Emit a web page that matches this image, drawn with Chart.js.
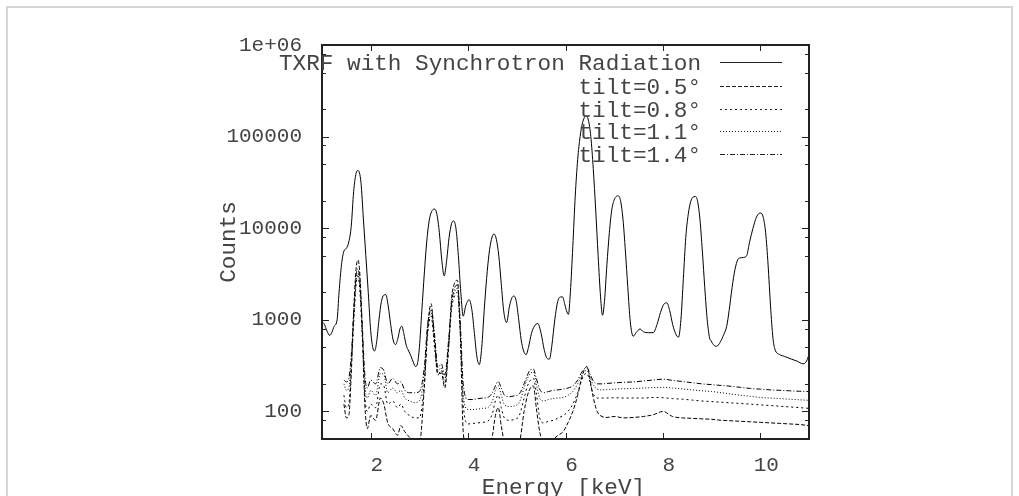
<!DOCTYPE html>
<html><head><meta charset="utf-8">
<script src="https://cdn.jsdelivr.net/npm/chart.js@4/dist/chart.umd.min.js"></script>
<style>
html,body{margin:0;padding:0;background:#fff;width:1019px;height:496px;overflow:hidden;}
#frame{position:absolute;left:6px;top:6px;width:1007px;height:520px;border:2px solid #d6d6d6;box-sizing:border-box;}
#wrap{position:absolute;left:0;top:0;width:1019px;height:496px;}
</style></head>
<body><div id="frame"></div><div id="wrap"><canvas id="c" width="1019" height="496"></canvas></div>
<script>
// ---------- data ----------
const seriesLabels = ["TXRF with Synchrotron Radiation","tilt=0.5°","tilt=0.8°","tilt=1.1°","tilt=1.4°"];
const xTickValues = [2,4,6,8,10];
const xTickLabels = ["2","4","6","8","10"];
const yTickValues = [100,1000,10000,100000,1000000];
const yTickLabels = ["100","1000","10000","100000","1e+06"];
const yMinorTicks = [80,200,500,800,2000,5000,8000,20000,50000,80000,200000,500000,800000];
const xTitle = "Energy [keV]";
const yTitle = "Counts";

const mainE = [1.00,1.05,1.10,1.16,1.20,1.25,1.31,1.35,1.40,1.45,1.50,1.55,1.60,1.65,1.70,1.74,1.80,1.85,1.90,1.95,2.00,2.05,2.08,2.12,2.17,2.22,2.27,2.31,2.36,2.41,2.46,2.51,2.56,2.60,2.64,2.68,2.73,2.78,2.83,2.88,2.92,2.96,3.00,3.05,3.10,3.15,3.20,3.25,3.31,3.36,3.41,3.46,3.51,3.56,3.61,3.66,3.70,3.75,3.80,3.85,3.90,3.95,4.02,4.08,4.13,4.18,4.23,4.28,4.33,4.38,4.43,4.48,4.53,4.58,4.63,4.68,4.73,4.79,4.85,4.90,4.94,4.99,5.04,5.09,5.14,5.19,5.24,5.30,5.36,5.43,5.50,5.56,5.62,5.67,5.72,5.78,5.84,5.90,5.94,5.98,6.02,6.06,6.10,6.15,6.20,6.25,6.30,6.35,6.42,6.47,6.52,6.57,6.62,6.67,6.72,6.76,6.80,6.85,6.90,6.95,7.00,7.05,7.08,7.13,7.18,7.23,7.28,7.33,7.39,7.45,7.53,7.60,7.70,7.80,7.88,7.95,8.02,8.08,8.14,8.20,8.26,8.32,8.37,8.42,8.47,8.52,8.57,8.62,8.66,8.71,8.76,8.81,8.86,8.91,8.96,8.99,9.05,9.10,9.18,9.25,9.31,9.36,9.42,9.48,9.54,9.58,9.65,9.72,9.78,9.85,9.92,9.97,10.01,10.06,10.11,10.16,10.21,10.26,10.30,10.40,10.50,10.64,10.75,10.88,10.95,11.00];
const mainCounts = [955,891,759,676,724,851,1000,1995,3981,5623,6026,7079,10470,25119,39811,42658,31623,12589,5012,1995,759,479,457,562,1000,1585,1862,1884,1413,891,603,537,631,794,851,708,525,457,398,339,309,331,501,1259,3162,7079,12023,15136,16218,14125,8913,4467,3020,4467,7943,11220,12023,10000,5012,1995,1096,1413,1660,1259,708,398,324,501,1259,2818,5248,7586,8650,7586,5012,2512,1259,933,1413,1738,1820,1585,1000,603,457,417,501,708,851,912,708,479,380,372,525,1000,1585,1778,1778,1514,1259,1148,1995,6310,22387,56234,100000,141254,168267,151356,100000,44668,15849,5012,1778,1122,1585,3981,8913,15849,20417,22387,22594,19953,12589,5623,2239,955,661,724,794,741,724,724,891,1202,1479,1531,1259,891,708,646,1000,2818,7943,14125,19498,21878,22233,19953,12589,5623,2239,1000,631,589,525,513,575,692,851,1259,2239,3548,4571,4732,4786,5012,7079,10000,13183,14454,14655,13183,8913,3981,1413,631,479,417,398,372,355,331,355,417];

const tiltE = [1.45,1.50,1.55,1.60,1.65,1.70,1.74,1.78,1.83,1.88,1.93,2.00,2.10,2.20,2.27,2.35,2.45,2.55,2.62,2.70,2.80,2.90,3.00,3.10,3.17,3.24,3.31,3.38,3.45,3.52,3.60,3.66,3.72,3.78,3.84,3.90,4.00,4.10,4.20,4.30,4.40,4.50,4.56,4.62,4.68,4.75,4.85,4.95,5.05,5.15,5.22,5.28,5.34,5.40,5.47,5.55,5.65,5.75,5.85,5.95,6.05,6.15,6.25,6.32,6.38,6.44,6.50,6.56,6.65,6.75,6.85,7.00,7.20,7.40,7.60,7.80,8.00,8.20,8.40,8.60,8.80,9.00,9.20,9.40,9.60,9.80,10.00,10.20,10.40,10.60,10.80,11.00];
const tilt05 = [120,85,90,250,1200,3600,4500,3000,700,120,65,90,80,140,120,75,65,55,70,60,52,45,45,180,800,1500,600,250,280,180,500,1700,2500,2700,700,60,35,36,37,38,40,55,90,110,70,45,40,40,45,100,150,180,190,110,60,45,48,50,55,60,75,100,150,220,280,310,230,150,100,88,86,88,85,86,88,92,100,88,85,84,83,82,80,79,78,77,76,75,74,73,72,70];
const tilt08 = [150,110,120,300,900,2400,3000,2000,600,150,100,120,110,200,190,120,130,110,120,100,90,85,85,200,700,1100,500,260,260,200,500,1300,1800,2000,700,120,73,74,75,76,78,95,130,150,110,84,80,82,90,140,190,220,230,160,85,75,78,80,85,90,100,120,160,210,250,260,210,160,140,140,140,141,140,140,140,142,141,138,136,133,130,128,126,124,122,120,118,116,114,112,110,108];
const tilt11 = [200,170,180,350,1000,2600,3200,2200,700,200,140,170,150,260,250,160,180,160,170,140,130,125,130,260,800,1200,600,280,300,220,550,1400,2000,2200,800,150,105,105,106,108,110,130,170,190,150,118,113,115,125,180,230,260,270,200,140,130,135,138,140,142,150,165,200,240,270,280,240,200,175,172,173,175,177,178,180,182,183,180,176,172,168,165,160,155,150,146,142,140,138,136,134,132];
const tilt14 = [220,210,230,400,1200,3000,3600,2500,800,250,180,220,200,300,280,200,230,200,210,170,160,160,165,300,900,1300,700,300,330,250,600,1500,2200,2400,900,200,135,135,138,140,142,160,190,212,180,150,145,148,155,200,250,285,290,230,175,160,165,170,172,175,180,190,220,260,290,300,260,220,200,200,202,205,208,210,215,220,225,218,212,206,200,196,192,188,183,178,175,172,170,168,166,165];

// ---------- chart ----------
const FONT = "'Liberation Mono','DejaVu Sans Mono',monospace";
const TXT = '#444';
const pts = (xs, ys) => xs.map((x, i) => ({x: x, y: ys[i]}));
const dashes = [[], [4,2], [2,3], [1,2], [5,2,1,2]];
const seriesX = [mainE, tiltE, tiltE, tiltE, tiltE];
const seriesY = [mainCounts, tilt05, tilt08, tilt11, tilt14];

const datasets = seriesLabels.map((lab, i) => ({
  label: lab,
  data: pts(seriesX[i], seriesY[i]),
  borderColor: '#000',
  borderWidth: 1,
  borderDash: dashes[i],
  pointRadius: 0,
  fill: false,
  cubicInterpolationMode: 'monotone'
}));

const legendRows = [62, 86, 109, 131, 154];

const decor = {
  id: 'decor',
  afterDatasetsDraw(chart) {
    const {ctx, chartArea: a, scales: {x, y}} = chart;
    ctx.save();
    ctx.strokeStyle = '#222';
    ctx.lineWidth = 1;
    ctx.setLineDash([]);
    ctx.beginPath();
    xTickValues.forEach(v => {
      const px = Math.round(x.getPixelForValue(v)) + 0.5;
      ctx.moveTo(px, a.bottom); ctx.lineTo(px, a.bottom - 6);
      ctx.moveTo(px, a.top); ctx.lineTo(px, a.top + 6);
    });
    yTickValues.forEach(v => {
      const py = Math.round(y.getPixelForValue(v)) + 0.5;
      ctx.moveTo(a.left, py); ctx.lineTo(a.left + 7, py);
      ctx.moveTo(a.right, py); ctx.lineTo(a.right - 7, py);
    });
    yMinorTicks.forEach(v => {
      const py = Math.round(y.getPixelForValue(v)) + 0.5;
      ctx.moveTo(a.left, py); ctx.lineTo(a.left + 4, py);
      ctx.moveTo(a.right, py); ctx.lineTo(a.right - 4, py);
    });
    ctx.stroke();
    ctx.lineWidth = 2;
    ctx.strokeRect(a.left, a.top, a.right - a.left, a.bottom - a.top);

    // legend
    ctx.font = '22.7px ' + FONT;
    ctx.fillStyle = TXT;
    ctx.textAlign = 'right';
    ctx.textBaseline = 'middle';
    chart.data.datasets.forEach((ds, i) => {
      const yy = legendRows[i];
      ctx.fillText(ds.label, 701, yy + 2);
      ctx.beginPath();
      ctx.lineWidth = 1;
      ctx.setLineDash(ds.borderDash);
      ctx.moveTo(720, yy + 0.5); ctx.lineTo(782, yy + 0.5);
      ctx.stroke();
    });
    ctx.setLineDash([]);

    // axis titles
    ctx.textAlign = 'center';
    ctx.fillText(xTitle, (a.left + a.right) / 2 - 2, 488);
    ctx.translate(229, (a.top + a.bottom) / 2);
    ctx.rotate(-Math.PI / 2);
    ctx.fillText(yTitle, 0, 0);
    ctx.restore();
  }
};

new Chart(document.getElementById('c'), {
  type: 'line',
  data: {datasets: datasets},
  plugins: [decor],
  options: {
    responsive: false,
    animation: false,
    devicePixelRatio: 1,
    layout: {padding: {left: 0, top: 45, right: 210, bottom: 0}},
    plugins: {legend: {display: false}, tooltip: {enabled: false}, title: {display: false}},
    scales: {
      x: {
        type: 'linear', min: 1, max: 11,
        afterBuildTicks: s => { s.ticks = xTickValues.map(v => ({value: v})); },
        afterFit: s => { s.height = 57; },
        grid: {display: false, drawTicks: false},
        border: {display: false},
        ticks: {
          padding: 14, labelOffset: 6, maxRotation: 0, autoSkip: false,
          color: TXT, font: {family: FONT, size: 21},
          callback: (v) => xTickLabels[xTickValues.indexOf(v)]
        }
      },
      y: {
        type: 'logarithmic', min: 50, max: 1000000,
        afterBuildTicks: s => { s.ticks = yTickValues.map(v => ({value: v})); },
        afterFit: s => { s.width = 322; },
        grid: {display: false, drawTicks: false},
        border: {display: false},
        ticks: {
          padding: 20, autoSkip: false,
          color: TXT, font: {family: FONT, size: 21},
          callback: (v) => yTickLabels[yTickValues.indexOf(v)]
        }
      }
    }
  }
});
</script></body></html>
